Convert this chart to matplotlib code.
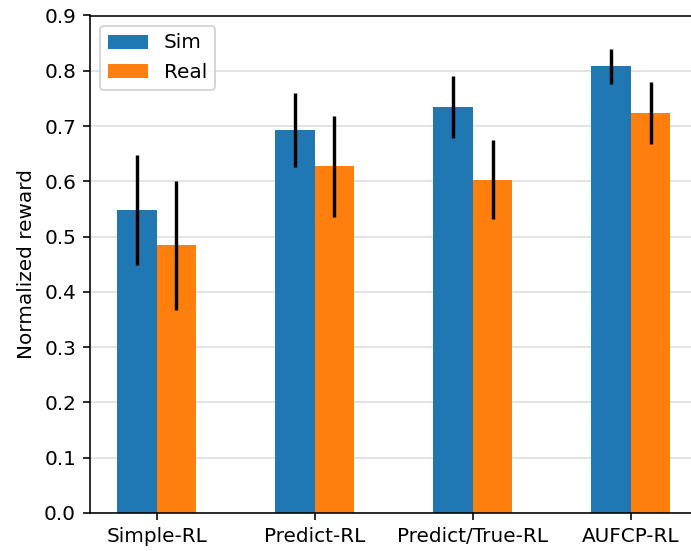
import numpy as np
import matplotlib.pyplot as plt

# values
methods = ['Simple-RL', 'Predict-RL', 'Predict/True-RL', 'AUFCP-RL']
sim_mean = [0.548, 0.693, 0.735, 0.808]
sim_err = [0.100, 0.067, 0.056, 0.032]
real_mean = [0.484, 0.627, 0.603, 0.723]
real_err = [0.116, 0.092, 0.071, 0.056]

x = np.arange(len(methods))
w = 0.25

# drawn at 144 dpi so default sizes match the reference
fig = plt.figure(figsize=(691 / 144, 551 / 144), dpi=144)
ax = fig.add_axes([90 / 691, 38 / 551, 1 - 90 / 691, 497.5 / 551])

ax.bar(x - w / 2, sim_mean, w, yerr=sim_err, color='#1f77b4', label='Sim',
       error_kw=dict(ecolor='black', elinewidth=1.7, capsize=0))
ax.bar(x + w / 2, real_mean, w, yerr=real_err, color='#ff7f0e', label='Real',
       error_kw=dict(ecolor='black', elinewidth=1.7, capsize=0))

ax.set_xticks(x)
ax.set_xticklabels(methods)
ax.set_xlim(-0.421, 3.38)
ax.set_ylim(0, 0.9)
ax.set_yticks(np.arange(0, 0.91, 0.1))
ax.set_ylabel('Normalized reward')

ax.yaxis.grid(True, color='#dddddd', linewidth=0.8)
ax.set_axisbelow(True)
ax.spines['right'].set_visible(False)

ax.legend(loc='upper left')

fig.savefig('out.png', dpi=144)
